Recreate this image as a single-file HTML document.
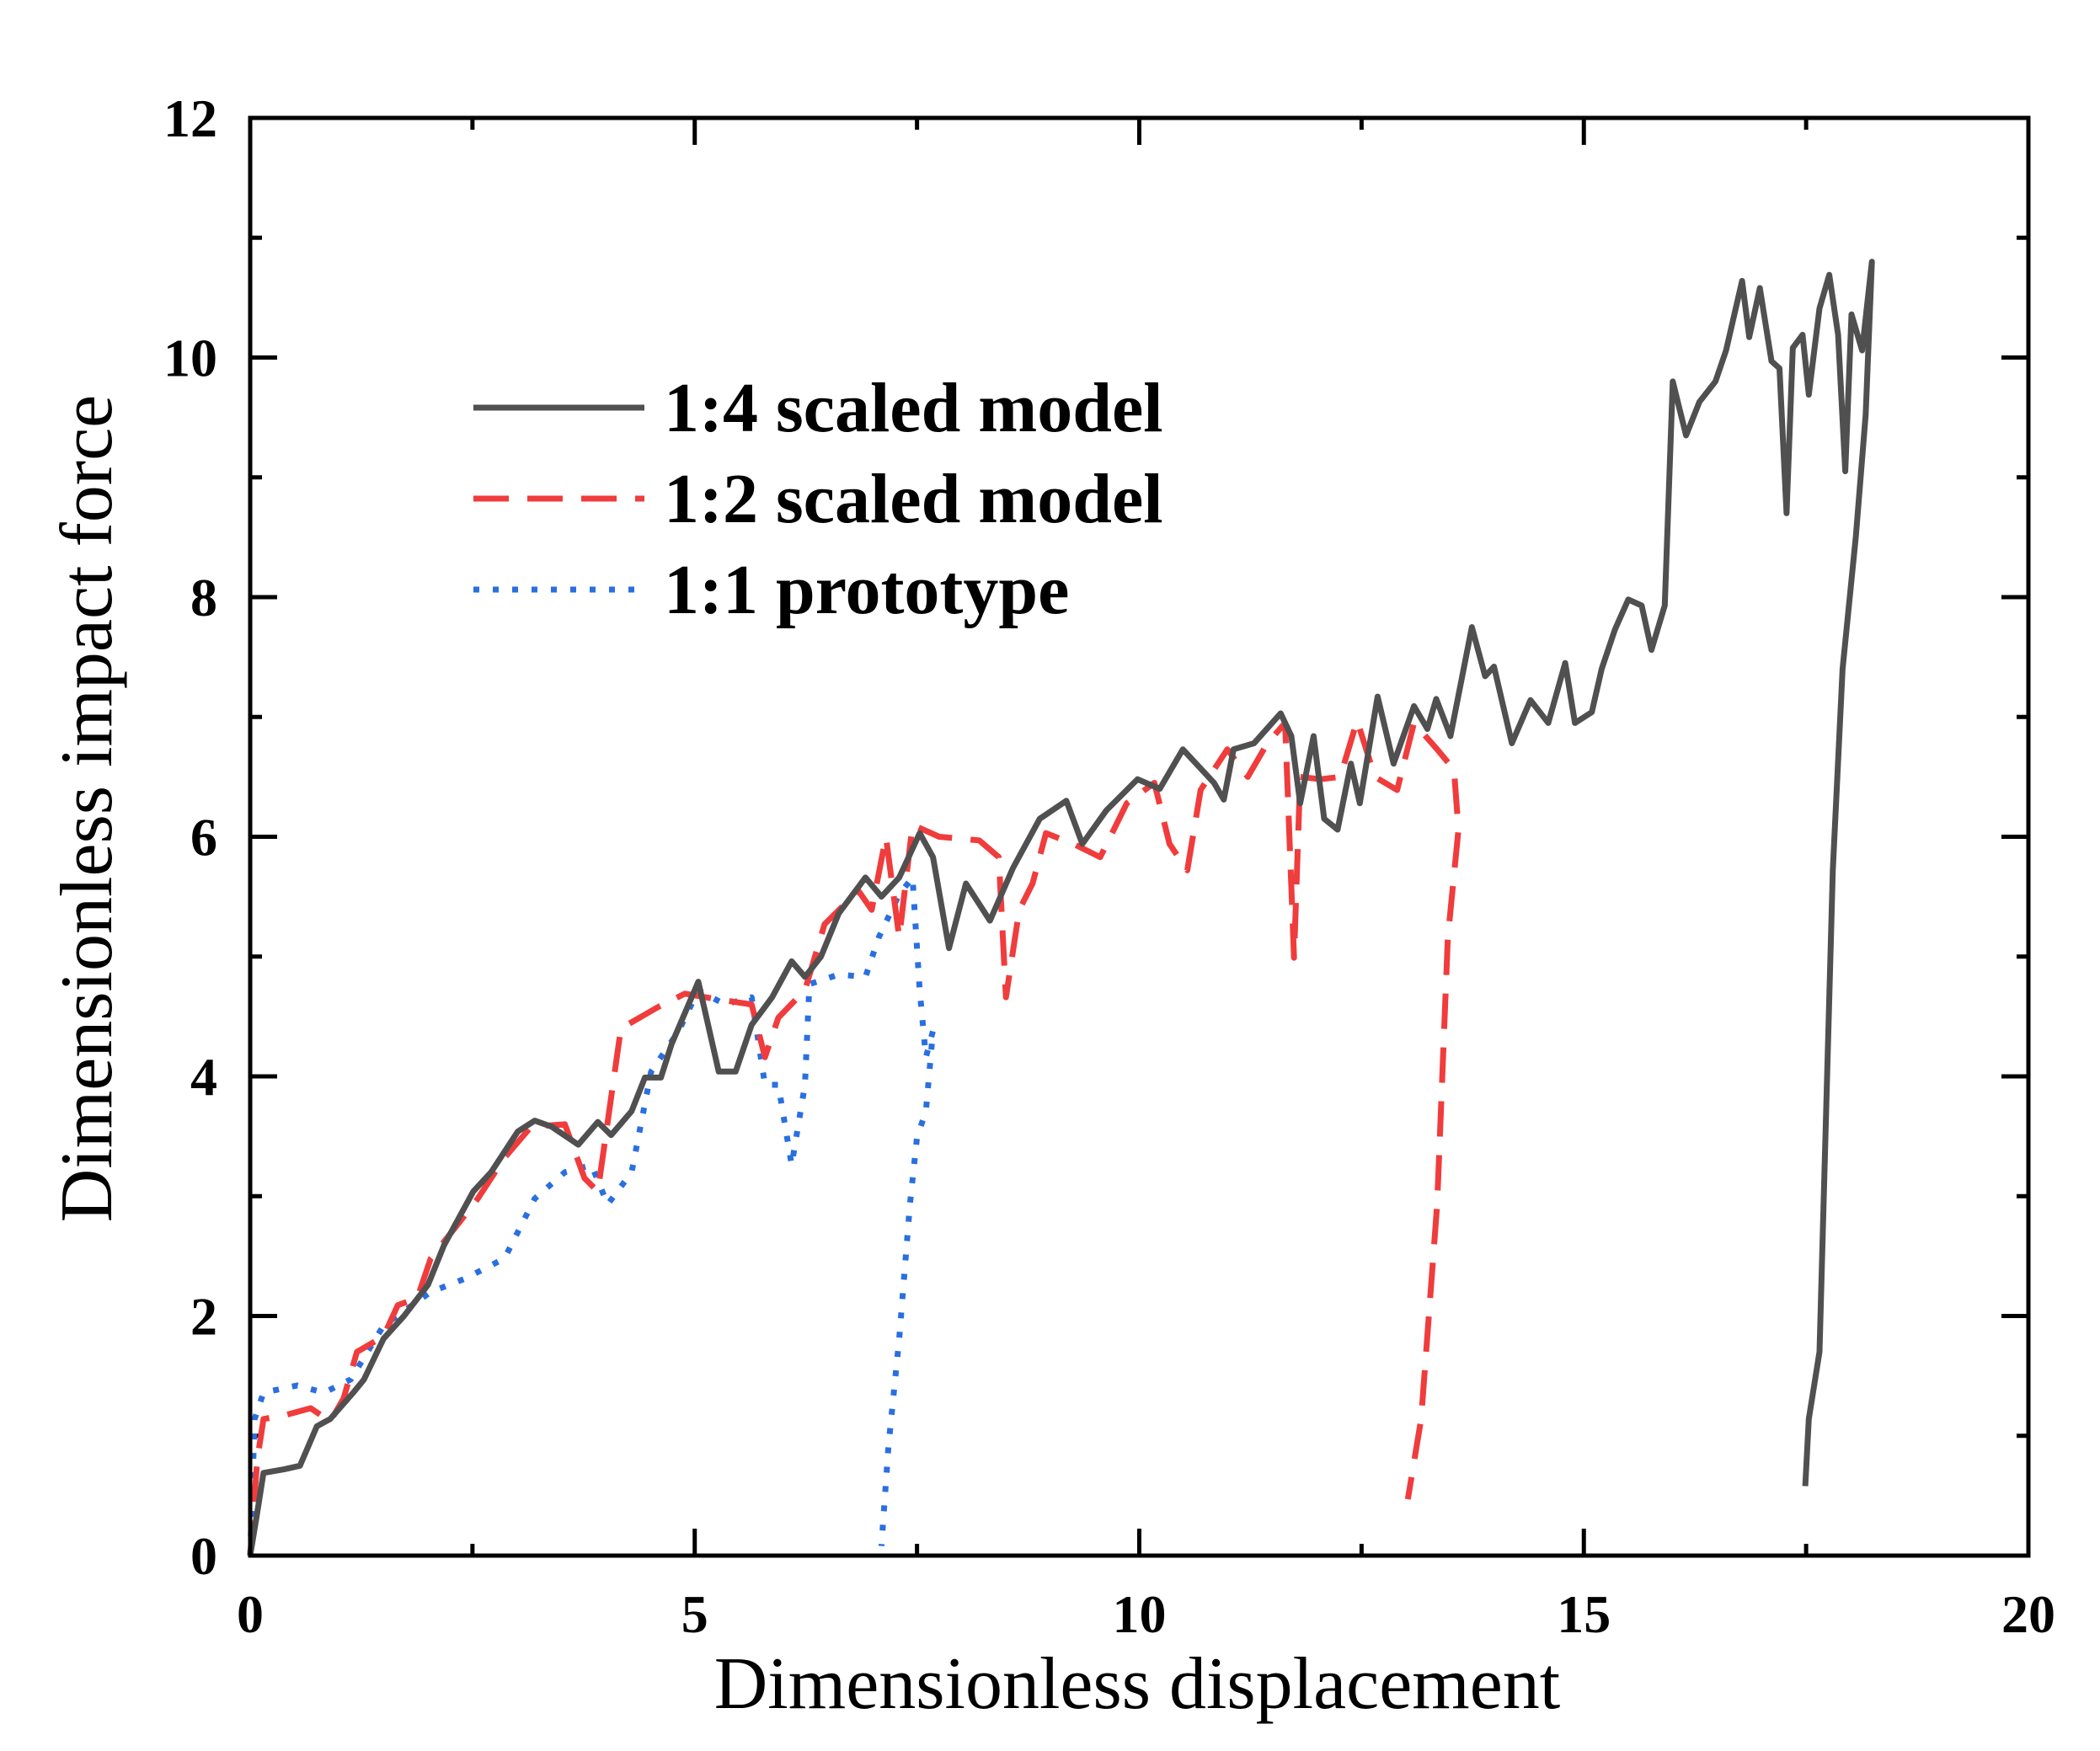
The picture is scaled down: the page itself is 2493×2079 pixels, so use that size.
<!DOCTYPE html>
<html><head><meta charset="utf-8"><style>
html,body{margin:0;padding:0;background:#fff;}
svg{display:block;}
.tick{font-family:"Liberation Serif",serif;font-weight:bold;font-size:64px;fill:#000;}
.title{font-family:"Liberation Serif",serif;font-size:88px;fill:#000;}
.leg{font-family:"Liberation Serif",serif;font-weight:bold;font-size:84px;fill:#000;}
</style></head><body>
<svg id="chart" width="2493" height="2079" viewBox="0 0 2493 2079" xmlns="http://www.w3.org/2000/svg">
<g id="axes"></g>
<g id="series"></g>
<rect x="297" y="140" width="2111" height="1707" fill="none" stroke="#000" stroke-width="5"/>
<text class="title" x="1350" y="2028" text-anchor="middle">Dimensionless displacement</text>
<text class="title" transform="translate(132,960) rotate(-90)" text-anchor="middle">Dimensionless impact force</text>
<g>
<line x1="562" y1="484" x2="765" y2="484" stroke="#505050" stroke-width="7"/>
<text class="leg" x="788" y="512">1:4 scaled model</text>
<line x1="562" y1="592" x2="765" y2="592" stroke="#f03c3c" stroke-width="7" stroke-dasharray="42 22"/>
<text class="leg" x="788" y="620">1:2 scaled model</text>
<line x1="562" y1="700" x2="765" y2="700" stroke="#2a6fe0" stroke-width="7" stroke-dasharray="7 16"/>
<text class="leg" x="788" y="728">1:1 prototype</text>
</g>
</svg>
<script>
const xTicks=[0,5,10,15,20];
const yTicks=[0,2,4,6,8,10,12];
const grayX=[0,0.08,0.15,0.38,0.56,0.75,0.9,1.16,1.28,1.5,1.73,2.0,2.18,2.51,2.71,3.01,3.2,3.39,3.69,3.91,4.06,4.29,4.44,4.62,4.74,5.04,5.27,5.46,5.64,5.87,6.09,6.24,6.42,6.62,6.92,7.1,7.3,7.53,7.68,7.86,8.05,8.32,8.58,8.88,9.18,9.36,9.63,9.98,10.23,10.49,10.84,10.95,11.06,11.29,11.59,11.71,11.81,11.96,12.08,12.23,12.38,12.48,12.68,12.86,13.09,13.24,13.34,13.5,13.74,13.89,13.99,14.19,14.4,14.6,14.79,14.9,15.09,15.2,15.35,15.5,15.65,15.76,15.91,16.0,16.15,16.3,16.48,16.6,16.78,16.86,16.98,17.11,17.2,17.28,17.35,17.46,17.53,17.65,17.76,17.86,17.94,18.01,18.13,18.24,18.17,18.06,17.91,17.8,17.65,17.53,17.49];
const grayY=[0,0.36,0.69,0.72,0.75,1.08,1.14,1.36,1.47,1.81,2.0,2.26,2.59,3.04,3.2,3.54,3.63,3.58,3.43,3.62,3.51,3.71,3.99,3.99,4.27,4.79,4.04,4.04,4.43,4.66,4.96,4.83,5.0,5.36,5.66,5.5,5.66,6.03,5.83,5.07,5.61,5.3,5.74,6.15,6.3,5.94,6.22,6.48,6.4,6.73,6.45,6.31,6.73,6.78,7.03,6.84,6.28,6.84,6.15,6.06,6.61,6.28,7.17,6.61,7.09,6.9,7.15,6.84,7.75,7.34,7.42,6.78,7.14,6.95,7.45,6.95,7.04,7.4,7.73,7.98,7.93,7.56,7.93,9.8,9.35,9.63,9.8,10.06,10.64,10.17,10.58,9.97,9.91,8.7,10.08,10.19,9.69,10.41,10.69,10.19,9.05,10.36,10.06,10.8,9.52,8.51,7.4,5.72,1.7,1.14,0.58];
const redX=[0,0.08,0.15,0.38,0.68,0.9,1.05,1.2,1.5,1.66,1.88,2.03,2.33,2.56,2.86,3.16,3.54,3.76,3.91,4.17,4.59,4.89,5.12,5.64,5.79,5.94,6.24,6.46,6.84,6.99,7.15,7.3,7.45,7.75,8.2,8.42,8.5,8.65,8.8,8.95,9.26,9.56,9.86,10.17,10.34,10.54,10.69,10.99,11.22,11.44,11.64,11.74,11.81,12.04,12.26,12.45,12.65,12.9,13.09,13.35,13.54,13.59,13.47,13.35,13.17,13.02];
const redY=[0,0.8,1.14,1.17,1.23,1.12,1.31,1.7,1.83,2.09,2.15,2.48,2.76,2.98,3.32,3.58,3.6,3.15,3.04,4.4,4.58,4.69,4.66,4.6,4.16,4.49,4.72,5.27,5.55,5.39,6.0,5.16,6.1,6.0,5.97,5.83,4.66,5.39,5.61,6.03,5.94,5.83,6.28,6.45,5.94,5.72,6.39,6.73,6.5,6.78,6.95,4.99,6.5,6.48,6.5,6.97,6.5,6.39,6.95,6.73,6.56,6.06,5.16,2.93,1.14,0.47];
const blueX=[0,0.05,0.15,0.53,0.83,1.13,1.5,2.03,2.41,2.86,3.2,3.54,3.84,4.02,4.29,4.51,4.82,5.04,5.34,5.64,5.79,5.94,6.09,6.24,6.29,6.62,6.92,7.07,7.3,7.45,7.53,7.6,7.68,7.6,7.5,7.42,7.3,7.18,7.1];
const blueY=[0,1.14,1.36,1.42,1.36,1.47,1.92,2.2,2.31,2.48,2.98,3.2,3.26,2.93,3.2,4.04,4.38,4.72,4.6,4.66,3.93,3.93,3.26,3.93,4.77,4.85,4.83,5.16,5.52,5.66,4.72,4.16,4.38,3.71,3.49,2.93,1.81,0.92,0.08];

const X0=297,X1=2408,Y0=1847,Y1=140;
function sx(v){return X0+(X1-X0)*v/20;}
function sy(v){return Y0-(Y0-Y1)*v/12;}
const NS="http://www.w3.org/2000/svg";
const axes=document.getElementById('axes');
function ln(x1,y1,x2,y2,name){
  const l=document.createElementNS(NS,'line');
  l.setAttribute('x1',x1);l.setAttribute('y1',y1);l.setAttribute('x2',x2);l.setAttribute('y2',y2);
  l.setAttribute('stroke','#000');l.setAttribute('stroke-width','5');
  
  
  axes.appendChild(l);
}
for(let v=0;v<=20;v+=2.5){
  const major=(v%5===0), L=major?32:14, x=sx(v);
  ln(x,Y0,x,Y0-L,'x-tick');ln(x,Y1,x,Y1+L,'x-tick-top');
}
for(let v=0;v<=12;v+=1){
  const major=(v%2===0), L=major?32:14, y=sy(v);
  ln(X0,y,X0+L,y,'y-tick');ln(X1,y,X1-L,y,'y-tick-right');
}
xTicks.forEach(v=>{
  const t=document.createElementNS(NS,'text');
  t.setAttribute('class','tick');t.setAttribute('x',sx(v));t.setAttribute('y',1938);t.setAttribute('text-anchor','middle');
  t.textContent=v;
  
  
  axes.appendChild(t);
});
yTicks.forEach(v=>{
  const t=document.createElementNS(NS,'text');
  t.setAttribute('class','tick');t.setAttribute('x',258);t.setAttribute('y',sy(v)+22);t.setAttribute('text-anchor','end');
  t.textContent=v;
  
  
  axes.appendChild(t);
});
const series=document.getElementById('series');
function draw(xs,ys,color,dash,name){
  const p=document.createElementNS(NS,'path');
  let d='';
  xs.forEach((x,i)=>{d+=(i?'L':'M')+sx(x).toFixed(1)+' '+sy(ys[i]).toFixed(1);});
  p.setAttribute('d',d);p.setAttribute('fill','none');p.setAttribute('stroke',color);
  p.setAttribute('stroke-width','7');p.setAttribute('stroke-linejoin','round');
  if(dash)p.setAttribute('stroke-dasharray',dash);
  
  
  series.appendChild(p);
}
draw(blueX,blueY,'#2a6fe0','7 16','series-1-1-prototype');
draw(redX,redY,'#f03c3c','42 22','series-1-2-scaled-model');
draw(grayX,grayY,'#505050',null,'series-1-4-scaled-model');
</script>
</body></html>
